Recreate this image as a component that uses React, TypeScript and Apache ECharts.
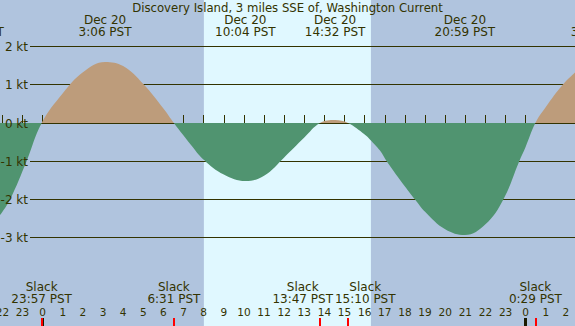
import React, { useEffect, useRef } from "react";
import * as echarts from "echarts";

// Current speed (hours from Dec 20 00:00 PST, knots; + = flood, - = ebb)
const curveHours = [-2.12, -1.62, -0.8, -0.05, 1, 2, 3.1, 4, 5, 6, 6.52, 7, 7.33, 8, 9, 10.07, 11, 12, 13, 13.78, 14.53, 15.17, 16, 16.26, 16.76, 17.09, 18, 18.5, 19, 20, 20.98, 22, 22.89, 23.68, 24, 24.48, 25, 25.84, 26.45];
const curveKnots = [-2.41, -2.0, -1.0, 0, 0.78, 1.33, 1.6, 1.49, 1.02, 0.38, 0, -0.33, -0.55, -0.96, -1.35, -1.52, -1.38, -0.9, -0.38, 0, 0.08, 0, -0.3, -0.43, -0.72, -1.0, -1.66, -2.0, -2.32, -2.78, -2.93, -2.65, -2.0, -1.0, -0.62, 0, 0.42, 1.0, 1.32];

// Max current events (top labels)
const maxHours = [-3.43, 3.1, 10.07, 14.53, 20.98, 27.55];
const maxLabels = ["Dec 19\n20:34 PST", "Dec 20\n3:06 PST", "Dec 20\n10:04 PST", "Dec 20\n14:32 PST", "Dec 20\n20:59 PST", "Dec 21\n3:33 PST"];

// Slack events (bottom labels)
const slackHours = [-0.05, 6.52, 13.78, 15.17, 24.48];
const slackLabels = ["Slack\n23:57 PST", "Slack\n6:31 PST", "Slack\n13:47 PST", "Slack\n15:10 PST", "Slack\n0:29 PST"];

// Daylight band
const sunriseHour = 8.01;
const sunsetHour = 16.31;

// Axis ticks
const hourTicks = [-2, -1, 0, 1, 2, 3, 4, 5, 6, 7, 8, 9, 10, 11, 12, 13, 14, 15, 16, 17, 18, 19, 20, 21, 22, 23, 24, 25, 26];
const midnightTicks = [0, 24];
const knotTicks = [2, 1, 0, -1, -2, -3];

const X_MIN = -2.12;
const X_MAX = 26.45;
const Y_MIN = -5.314;
const Y_MAX = 3.22;

const TITLE = "Discovery Island, 3 miles SSE of, Washington Current";
const TXT = "#333300";
const FONT = "DejaVu Sans";
const FS = 12;
const EBB = "#509470";
const FLOOD = "#BD9C7B";
const KNOT_LINE_START = 30;

let measureCtx: CanvasRenderingContext2D | null = null;
function textWidth(s: string): number {
  if (!measureCtx) measureCtx = document.createElement("canvas").getContext("2d");
  if (!measureCtx) return s.length * 7;
  measureCtx.font = `${FS}px "${FONT}"`;
  return Math.max(...s.split("\n").map((l) => measureCtx!.measureText(l).width));
}

// push apart horizontally overlapping labels
function spreadLabels(xs: number[], labels: string[], gap = 2): number[] {
  const out = xs.slice();
  const ws = labels.map(textWidth);
  for (let pass = 0; pass < 4; pass++) {
    for (let i = 1; i < out.length; i++) {
      const need = (ws[i] + ws[i - 1]) / 2 + gap;
      const d = out[i] - out[i - 1];
      if (d < need) {
        const s = (need - d) / 2;
        out[i - 1] -= s;
        out[i] += s;
      }
    }
  }
  return out;
}

function labelSeries(hours: number[], labels: string[], top: number) {
  return {
    type: "custom",
    xAxisIndex: 0,
    yAxisIndex: 0,
    clip: false,
    silent: true,
    z: 6,
    data: hours.map((h) => [h, 0]),
    renderItem: (params: any, api: any) => {
      const xs = hours.map((h) => api.coord([h, 0])[0]);
      const spread = spreadLabels(xs, labels);
      return {
        type: "text",
        x: spread[params.dataIndex],
        y: top,
        style: {
          text: labels[params.dataIndex],
          fill: TXT,
          fontSize: FS,
          fontFamily: FONT,
          align: "center",
          verticalAlign: "top",
          lineHeight: 12,
        },
      };
    },
  };
}

export default function App() {
  const ref = useRef<HTMLDivElement>(null);
  useEffect(() => {
    document.body.style.margin = "0";
    const chart = echarts.init(ref.current!, null, { renderer: "svg" });
    const baseX = { min: X_MIN, max: X_MAX, type: "value" as const, splitLine: { show: false } };
    chart.setOption({
      animation: false,
      backgroundColor: "#B0C4DE",
      title: {
        text: TITLE,
        left: "center",
        top: 1,
        padding: 0,
        textStyle: { fontSize: 11.7, fontWeight: "normal", color: TXT, fontFamily: FONT, lineHeight: 13 },
      },
      grid: { left: 0, right: 0, top: 0, bottom: 0, containLabel: false, outerBoundsMode: "none" },
      xAxis: [
        {
          ...baseX,
          position: "bottom",
          axisLine: { show: false },
          axisTick: { show: true, inside: true, length: 8, customValues: hourTicks, lineStyle: { color: TXT, width: 1 } },
          axisLabel: {
            show: true,
            inside: true,
            margin: 8,
            customValues: hourTicks,
            color: TXT,
            fontSize: 10.5,
            fontFamily: FONT,
            lineHeight: 12,
            hideOverlap: false,
            showMinLabel: true,
            showMaxLabel: true,
            formatter: (v: number) => String(((Math.round(v) % 24) + 24) % 24),
          },
        },
        {
          ...baseX,
          position: "bottom",
          axisLine: { show: false },
          axisTick: { show: true, inside: true, length: 8, customValues: midnightTicks, lineStyle: { color: "#1a1a00", width: 3 } },
          axisLabel: { show: false },
        },
        {
          ...baseX,
          position: "bottom",
          axisLine: { show: false },
          axisTick: { show: true, inside: true, length: 8, customValues: slackHours, lineStyle: { color: "#ff0000", width: 2 } },
          axisLabel: { show: false },
        },
      ],
      yAxis: { type: "value", min: Y_MIN, max: Y_MAX, show: false },
      visualMap: {
        show: false,
        seriesIndex: 2,
        dimension: 1,
        pieces: [
          { lt: -5, color: EBB },
          { gte: -5, lt: 0, color: EBB },
          { gte: 0, color: FLOOD },
        ],
      },
      series: [
        {
          type: "line",
          data: [],
          symbol: "none",
          silent: true,
          z: 0,
          markArea: {
            silent: true,
            z: 0,
            itemStyle: { color: "#E0F8FF" },
            data: [[{ xAxis: sunriseHour }, { xAxis: sunsetHour }]],
          },
        },
        {
          // knot reference lines (behind the current area)
          type: "custom",
          clip: false,
          silent: true,
          z: 1,
          data: knotTicks.map((v) => [0, v]),
          renderItem: (params: any, api: any) => {
            const y = Math.floor(api.coord([0, api.value(1)])[1]) + 0.5;
            return {
              type: "line",
              shape: { x1: KNOT_LINE_START, y1: y, x2: api.getWidth(), y2: y },
              style: { stroke: TXT, lineWidth: 1 },
            };
          },
        },
        {
          type: "line",
          data: curveHours.map((h, i) => [h, curveKnots[i]]),
          smooth: 0.4,
          symbol: "none",
          lineStyle: { width: 0 },
          areaStyle: { opacity: 1 },
          silent: true,
          z: 3,
        },
        {
          // knot labels (above the current area)
          type: "custom",
          clip: false,
          silent: true,
          z: 8,
          data: knotTicks.map((v) => [0, v]),
          renderItem: (params: any, api: any) => {
            const y = Math.floor(api.coord([0, api.value(1)])[1]) + 0.5;
            return {
              type: "text",
              x: KNOT_LINE_START - 2,
              y,
              style: {
                text: `${api.value(1)} kt`,
                fill: TXT,
                fontSize: FS,
                fontFamily: FONT,
                align: "right",
                verticalAlign: "middle",
              },
            };
          },
        },
        labelSeries(maxHours, maxLabels, 13.5),
        labelSeries(slackHours, slackLabels, 281.3),
      ],
    });
    return () => chart.dispose();
  }, []);
  return <div ref={ref} style={{ position: "fixed", left: 0, top: 0, width: 575, height: 326 }} />;
}
